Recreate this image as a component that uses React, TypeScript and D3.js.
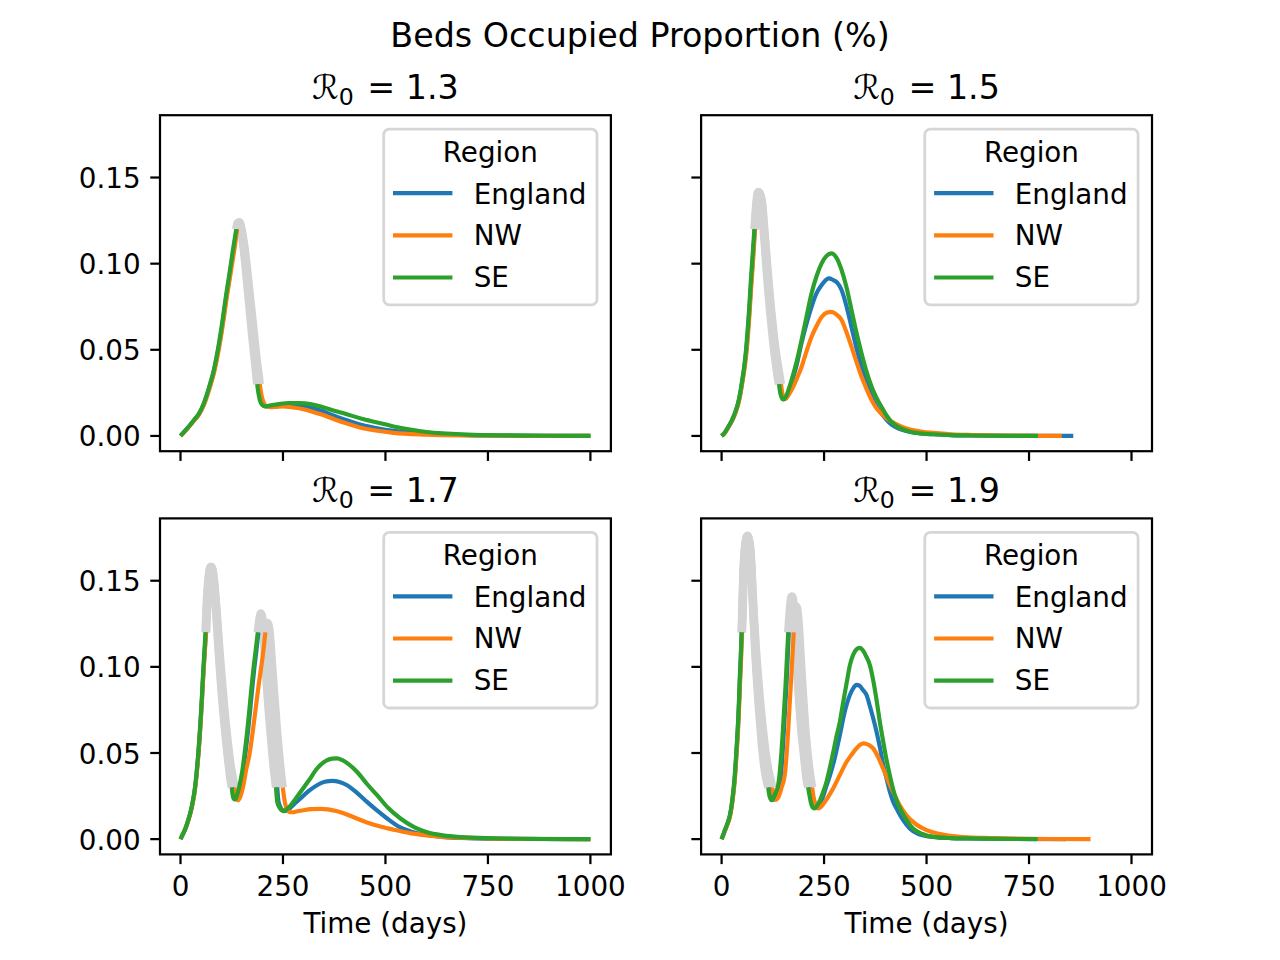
import * as d3 from 'd3';
import React from 'react';

type Pt = [number, number];
type Lock = [number, number];

// ---- chart values ----
const regions = ['England', 'NW', 'SE'];
const r0Labels = ['1.3', '1.5', '1.7', '1.9'];
const xTicks = [0, 250, 500, 750, 1000];
const yTicks = [0, 0.05, 0.1, 0.15];

// R0 = 1.3
const r13England: Pt[] = [
  [0, 0], [16, 0.0042], [32, 0.0088], [45, 0.0127], [57, 0.0185], [65, 0.024], [73, 0.03], [81, 0.037],
  [88, 0.045], [94, 0.0525], [100, 0.061], [106, 0.071], [112, 0.081], [118, 0.09], [123, 0.098], [128, 0.1055],
  [137, 0.12], [140, 0.1235], [143, 0.124], [147, 0.121], [151, 0.116], [155, 0.109], [159.5, 0.1], [163.5, 0.09],
  [168, 0.08], [172, 0.07], [176.5, 0.06], [180.5, 0.051], [184.5, 0.042], [187.5, 0.036], [190.5, 0.03],
  [193.5, 0.025], [197.5, 0.0205], [202.5, 0.018], [208, 0.0172], [216, 0.0173], [230, 0.0177], [250, 0.018],
  [275, 0.0177], [300, 0.0172], [325, 0.016], [350, 0.014], [375, 0.0117], [400, 0.0095], [440, 0.0065],
  [480, 0.0045], [520, 0.003], [560, 0.002], [600, 0.0014], [700, 0.0005], [800, 0.0002], [1000, 0],
];
const r13NW: Pt[] = [
  [0, 0], [16, 0.004], [32, 0.0085], [45, 0.0124], [57, 0.018], [65, 0.0232], [73, 0.0293], [81, 0.036],
  [88, 0.0435], [94, 0.051], [100, 0.0595], [106, 0.069], [112, 0.079], [118, 0.088], [123, 0.0955], [128, 0.103],
  [132, 0.109], [138, 0.12], [141, 0.1235], [144, 0.124], [148, 0.121], [152, 0.116], [156.5, 0.109], [161, 0.1],
  [165.5, 0.09], [170, 0.08], [174.5, 0.07], [179, 0.06], [183, 0.051], [187, 0.042], [190.5, 0.036], [193.5, 0.03],
  [196.5, 0.025], [200.5, 0.021], [205.5, 0.0182], [212, 0.0169], [220, 0.0167], [235, 0.0169], [250, 0.0171],
  [275, 0.0165], [300, 0.0155], [325, 0.0138], [350, 0.012], [375, 0.0097], [400, 0.0076], [440, 0.0048],
  [480, 0.003], [520, 0.0018], [600, 0.0008], [700, 0.0003], [800, 0.0001], [1000, 0],
];
const r13SE: Pt[] = [
  [0, 0], [16, 0.0043], [32, 0.009], [45, 0.013], [57, 0.019], [65, 0.0246], [73, 0.031], [81, 0.038],
  [88, 0.046], [94, 0.054], [100, 0.063], [106, 0.073], [112, 0.083], [118, 0.092], [123, 0.1], [128, 0.108],
  [136, 0.12], [139, 0.1235], [142, 0.124], [146, 0.121], [150, 0.116], [154, 0.109], [158, 0.1], [162, 0.09],
  [166, 0.08], [170, 0.07], [174, 0.06], [178, 0.051], [182, 0.042], [184.5, 0.036], [187, 0.03],
  [190, 0.025], [194, 0.0205], [199, 0.018], [205, 0.0172], [215, 0.0175], [224, 0.0179], [240, 0.0185],
  [264, 0.0191], [290, 0.019], [313, 0.0186], [335, 0.0175], [358, 0.0159], [380, 0.0143], [400, 0.013],
  [440, 0.0101], [480, 0.0078], [520, 0.0055], [560, 0.0037], [600, 0.0023], [650, 0.0014], [700, 0.0008],
  [800, 0.0003], [900, 0.0001], [1000, 0],
];
const r13EnglandLock: Lock[] = [[137, 190.5]];
const r13NWLock: Lock[] = [[138, 193.5]];
const r13SELock: Lock[] = [[136, 187]];

// R0 = 1.5
const r15England: Pt[] = [
  [0, 0], [8, 0.0019], [16, 0.005], [25, 0.0088], [32, 0.0127], [40, 0.0185], [45, 0.024], [50, 0.031],
  [55, 0.039], [60, 0.049], [63.5, 0.059], [67, 0.07], [70, 0.081], [73, 0.092], [76, 0.102], [81, 0.12],
  [84, 0.13], [86.5, 0.137], [90, 0.1415], [94, 0.14], [98.6, 0.135], [102, 0.124], [106.6, 0.111], [110.5, 0.098],
  [115, 0.086], [119, 0.075], [123.5, 0.065], [127.5, 0.056], [131.5, 0.048], [136, 0.04], [139, 0.035], [142, 0.03],
  [145, 0.025], [149, 0.0222], [152, 0.0213], [157, 0.022], [162, 0.024], [166, 0.027], [170.7, 0.031], [183, 0.041],
  [195, 0.054], [207, 0.065], [219.5, 0.075], [232, 0.083], [244, 0.0876], [254, 0.0905], [262, 0.0915],
  [272, 0.0905], [282, 0.089], [292.7, 0.0847], [305, 0.075], [317, 0.063], [329, 0.051], [341.5, 0.04],
  [354, 0.031], [366, 0.0227], [378, 0.017], [390, 0.013], [402, 0.0095], [414.6, 0.0065], [435, 0.004],
  [460, 0.0023], [490, 0.0014], [516, 0.001], [560, 0.0005], [600, 0.0003], [700, 0.0001], [858, 0],
];
const r15NW: Pt[] = [
  [0, 0], [8, 0.0018], [16, 0.0048], [25, 0.0085], [32, 0.0122], [40, 0.018], [45, 0.023], [50, 0.03],
  [55, 0.0375], [60, 0.047], [63.5, 0.056], [67, 0.067], [70, 0.078], [73, 0.089], [76, 0.099], [78.5, 0.108],
  [81.5, 0.12], [84.5, 0.13], [87, 0.137], [90.5, 0.1415], [94.5, 0.14], [99, 0.135], [102.5, 0.125], [107, 0.112],
  [111, 0.1], [115.5, 0.087], [120, 0.075], [124.5, 0.065], [129, 0.055], [133.5, 0.047], [138, 0.04],
  [141.5, 0.035], [145, 0.03], [148, 0.025], [152, 0.0222], [155, 0.0215], [159, 0.0222], [164, 0.024],
  [170.7, 0.0266], [183, 0.033], [195, 0.04], [207, 0.049], [219.5, 0.0576], [232, 0.064], [244, 0.069],
  [256, 0.0715], [268, 0.072], [280, 0.0705], [292.7, 0.0673], [305, 0.06], [317, 0.0517], [329, 0.043],
  [341.5, 0.0343], [354, 0.027], [366, 0.0208], [378, 0.016], [390, 0.013], [402, 0.0104], [414.6, 0.0083],
  [435, 0.0058], [460, 0.0037], [490, 0.0024], [516, 0.0018], [560, 0.001], [600, 0.0006], [700, 0.0002], [830, 0],
];
const r15SE: Pt[] = [
  [0, 0], [8, 0.002], [16, 0.0052], [25, 0.009], [32, 0.013], [40, 0.019], [45, 0.0246], [50, 0.032],
  [55, 0.04], [60, 0.051], [63.5, 0.0614], [67, 0.073], [70, 0.0847], [73, 0.096], [76, 0.106], [80, 0.12],
  [83, 0.13], [85.5, 0.137], [89, 0.1415], [93, 0.14], [97.6, 0.135], [101, 0.124], [105.6, 0.11], [109.5, 0.097],
  [113.7, 0.0847], [118, 0.073], [122, 0.0634], [126, 0.054], [130, 0.046], [134, 0.039], [138, 0.0324], [140, 0.03],
  [143, 0.025], [147, 0.022], [150, 0.0212], [155, 0.022], [160, 0.0245], [165, 0.028], [170.7, 0.0324],
  [183, 0.043], [195, 0.0556], [207, 0.069], [219.5, 0.0828], [232, 0.093], [244, 0.1002], [256, 0.1045],
  [268, 0.106], [280, 0.1035], [292.7, 0.0963], [305, 0.086], [317, 0.073], [329, 0.06], [341.5, 0.0479],
  [354, 0.037], [366, 0.0285], [378, 0.022], [390, 0.0169], [402, 0.012], [414.6, 0.0081], [435, 0.0045],
  [460, 0.0024], [490, 0.0013], [516, 0.001], [560, 0.0005], [600, 0.0003], [650, 0.0001], [700, 0.00005], [772, 0],
];
const r15EnglandLock: Lock[] = [[81, 142]];
const r15NWLock: Lock[] = [[81.5, 145]];
const r15SELock: Lock[] = [[80, 140]];

// R0 = 1.7
const r17England: Pt[] = [
  [0, 0], [6, 0.0029], [12, 0.006], [18, 0.0102], [24.4, 0.0154], [30, 0.0214], [35, 0.0286], [39, 0.037],
  [43, 0.0475], [46.5, 0.0585], [49.6, 0.07], [52.5, 0.082], [55.3, 0.0945], [58, 0.105], [62, 0.12],
  [66, 0.142], [70, 0.153], [74, 0.158], [77, 0.157], [80, 0.153], [83, 0.146], [86.4, 0.136], [90.5, 0.122],
  [94.5, 0.107], [98.5, 0.094], [102.6, 0.0817], [106.7, 0.0705], [110.8, 0.0604], [114.8, 0.051], [118.8, 0.043],
  [122.5, 0.036], [127, 0.03], [129, 0.026], [131.5, 0.0236], [135, 0.0232], [139, 0.025], [144, 0.029],
  [148, 0.0335], [152.4, 0.039], [158, 0.049], [164.6, 0.0623], [170, 0.075], [175, 0.0876], [180, 0.099],
  [185, 0.1089], [190, 0.12], [193.5, 0.127], [197.5, 0.13], [200.5, 0.127], [204.5, 0.1166], [208.5, 0.102],
  [212.5, 0.0876], [216.5, 0.075], [221, 0.0623], [225.5, 0.051], [230, 0.041], [236, 0.03], [239, 0.022],
  [243, 0.019], [248, 0.017], [255, 0.0163], [265, 0.0175], [280, 0.021], [292.7, 0.0236], [313, 0.028],
  [333, 0.0313], [352, 0.0333], [370, 0.0338], [388, 0.0332], [406.5, 0.0313], [430, 0.027], [455, 0.0216],
  [480, 0.0165], [504, 0.012], [536, 0.0068], [561, 0.0045], [600, 0.0024], [642, 0.0012], [700, 0.0006],
  [800, 0.0002], [1000, 0],
];
const r17NW: Pt[] = [
  [0, 0], [6, 0.0029], [12, 0.006], [18, 0.0101], [24.4, 0.0152], [30, 0.0212], [35, 0.0283], [39, 0.0366],
  [43, 0.047], [46.5, 0.0578], [49.6, 0.0694], [52.5, 0.081], [55.3, 0.0935], [58, 0.104], [62.5, 0.12],
  [66.5, 0.142], [70.5, 0.153], [74.5, 0.158], [77.5, 0.157], [80.5, 0.153], [83.5, 0.146], [87, 0.136],
  [91, 0.123], [95, 0.11], [99, 0.098], [103, 0.087], [107, 0.076], [111, 0.066], [115, 0.057], [119, 0.049],
  [123, 0.042], [127.5, 0.036], [132, 0.03], [134.5, 0.026], [137.5, 0.0232], [140.5, 0.0225], [144, 0.0235],
  [149, 0.027], [154, 0.032], [160, 0.04], [168, 0.0488], [176, 0.062], [184.5, 0.0778], [191, 0.09],
  [197.6, 0.101], [202, 0.109], [207, 0.12], [210, 0.1235], [213, 0.1255], [216, 0.123], [219.5, 0.1147],
  [223.5, 0.101], [227.6, 0.0876], [231.7, 0.075], [235.8, 0.0623], [240, 0.051], [244, 0.041], [249.6, 0.03],
  [252.5, 0.0245], [256, 0.02], [260, 0.0172], [266, 0.0158], [272, 0.0156], [285, 0.0162], [300, 0.0168],
  [320, 0.0174], [341.5, 0.0176], [360, 0.0173], [380, 0.0163], [398, 0.015], [420, 0.013], [455, 0.0097],
  [490, 0.0072], [520, 0.0055], [560, 0.0035], [601.6, 0.0022], [650, 0.0012], [700, 0.0007], [800, 0.0002],
  [1000, 0],
];
const r17SE: Pt[] = [
  [0, 0], [6, 0.003], [12, 0.0062], [18, 0.0105], [24.4, 0.0158], [30, 0.022], [35, 0.0294], [39, 0.038],
  [43, 0.0488], [46.5, 0.06], [49.6, 0.072], [52.5, 0.084], [55.3, 0.0972], [58, 0.108], [61, 0.12],
  [65, 0.142], [69, 0.153], [73, 0.158], [76, 0.157], [79, 0.153], [82, 0.146], [85.4, 0.136], [89.5, 0.122],
  [93.5, 0.107], [97.5, 0.094], [101.6, 0.0817], [105.7, 0.0705], [109.8, 0.0604], [113.8, 0.051],
  [117.5, 0.043], [121, 0.036], [125, 0.03], [127, 0.026], [129.5, 0.0236], [133, 0.023], [137, 0.025],
  [142, 0.029], [146, 0.0335], [150.4, 0.039], [156, 0.049], [162.6, 0.0623], [168, 0.075], [173, 0.0876],
  [178, 0.099], [183, 0.1089], [188.5, 0.12], [192, 0.127], [196, 0.131], [199, 0.128], [203, 0.1166],
  [207, 0.102], [211, 0.0876], [215, 0.075], [219.5, 0.0623], [223.5, 0.051], [227.6, 0.041], [233, 0.03],
  [236, 0.0216], [240, 0.019], [245, 0.0172], [252, 0.0163], [260, 0.0175], [275, 0.0215], [292.7, 0.0274],
  [313, 0.034], [333, 0.041], [355, 0.0455], [370, 0.0467], [382, 0.0469], [395, 0.0458], [410, 0.0435],
  [431, 0.039], [455, 0.032], [479.7, 0.0255], [505, 0.0185], [536.6, 0.012], [570, 0.007], [601.6, 0.004],
  [640, 0.0022], [683, 0.0012], [764, 0.0005], [850, 0.0002], [1000, 0],
];
const r17EnglandLock: Lock[] = [[62, 127], [190, 236]];
const r17NWLock: Lock[] = [[62.5, 132], [207, 249.6]];
const r17SELock: Lock[] = [[61, 125], [188.5, 233]];

// R0 = 1.9
const r19England: Pt[] = [
  [0, 0], [4, 0.0024], [8, 0.005], [14, 0.0087], [20.2, 0.0134], [24.5, 0.0193], [28.3, 0.0264], [31.8, 0.0347],
  [34.9, 0.0452], [37.8, 0.056], [40.5, 0.0675], [42.6, 0.079], [44.6, 0.092], [46.8, 0.1035], [49.3, 0.12],
  [53.3, 0.153], [57.3, 0.169], [60.5, 0.1745], [63, 0.176], [66, 0.174], [69.5, 0.169], [72.5, 0.158],
  [75.2, 0.1437], [79.3, 0.124], [83.4, 0.106], [87.5, 0.091], [91.5, 0.078], [95.5, 0.0665], [99.5, 0.056],
  [104, 0.047], [108.5, 0.04], [112.5, 0.035], [117, 0.03], [119.5, 0.026], [122.5, 0.0235], [125.5, 0.0227],
  [129.5, 0.0236], [133.5, 0.026], [137.5, 0.028], [141.5, 0.0313], [145.5, 0.039], [149, 0.0507], [152, 0.063],
  [155, 0.076], [158, 0.088], [160.5, 0.101], [164, 0.12], [167.5, 0.132], [172, 0.1408], [175.5, 0.137],
  [178.5, 0.128], [182.5, 0.112], [186.5, 0.0953], [190.5, 0.08], [195, 0.066], [199, 0.056], [203, 0.0469],
  [209, 0.036], [215, 0.03], [218, 0.025], [222, 0.021], [226, 0.0188], [231, 0.018], [238, 0.0195],
  [248, 0.025], [256, 0.031], [265, 0.0375], [275, 0.046], [288.5, 0.0604], [300, 0.0735], [313, 0.0837],
  [321, 0.0875], [329, 0.0895], [337, 0.089], [345, 0.0865], [353.6, 0.0837], [362, 0.077], [370, 0.07],
  [378, 0.0623], [386, 0.0535], [394, 0.0435], [402.4, 0.0352], [410, 0.028], [418, 0.022], [426.8, 0.0178],
  [443, 0.011], [459, 0.0062], [480, 0.003], [516, 0.0013], [560, 0.0006], [600, 0.0004], [700, 0.0001], [840, 0],
];
const r19NW: Pt[] = [
  [0, 0], [4, 0.0023], [8, 0.0048], [14, 0.0083], [20.2, 0.0128], [24.5, 0.0185], [28.3, 0.0253], [31.8, 0.0333],
  [34.9, 0.0434], [37.8, 0.0537], [40.5, 0.0648], [42.6, 0.076], [44.6, 0.0885], [46.8, 0.0995], [49.8, 0.12],
  [53.8, 0.153], [57.8, 0.169], [61, 0.1745], [63.5, 0.176], [66.5, 0.174], [70, 0.169], [73, 0.158],
  [75.7, 0.1437], [80, 0.125], [84.5, 0.108], [89, 0.094], [93.5, 0.081], [98, 0.07], [102.5, 0.06], [107, 0.051],
  [111.5, 0.044], [116, 0.038], [120, 0.034], [123.5, 0.03], [126, 0.0265], [129, 0.024], [132.5, 0.0228],
  [136.5, 0.0235], [142, 0.0265], [147, 0.0305], [151, 0.0335], [155, 0.039], [159, 0.0505], [162.5, 0.063],
  [165.5, 0.076], [168.5, 0.088], [171.5, 0.101], [176, 0.12], [179.5, 0.128], [183, 0.135], [186, 0.131],
  [188.5, 0.124], [192.5, 0.108], [196.6, 0.0914], [200.8, 0.076], [204.9, 0.0623], [209, 0.052], [213, 0.043],
  [217, 0.036], [221, 0.03], [224, 0.025], [228, 0.021], [232, 0.0188], [235.6, 0.0178], [241, 0.0185],
  [250, 0.021], [260, 0.0245], [272, 0.0294], [288, 0.037], [305, 0.0449], [317, 0.049], [329, 0.0527],
  [338, 0.0548], [347, 0.0556], [358, 0.0548], [369.8, 0.0527], [382, 0.0475], [394, 0.041], [406, 0.034],
  [418.5, 0.0274], [435, 0.0195], [451, 0.0139], [475, 0.0085], [500, 0.0052], [530, 0.0031], [557, 0.0019],
  [600, 0.0011], [638, 0.0007], [700, 0.0004], [800, 0.0001], [900, 0],
];
const r19SE: Pt[] = [
  [0, 0], [4, 0.0025], [8, 0.0052], [14, 0.009], [20.2, 0.0139], [24.5, 0.02], [28.3, 0.0274], [31.8, 0.036],
  [34.9, 0.0469], [37.8, 0.058], [40.5, 0.07], [42.6, 0.082], [44.6, 0.0953], [46.8, 0.107], [48.8, 0.12],
  [52.8, 0.153], [56.8, 0.169], [60, 0.1745], [62.5, 0.176], [65.5, 0.174], [69, 0.169], [72, 0.158],
  [74.7, 0.1437], [78.8, 0.124], [82.9, 0.105], [87, 0.0895], [91, 0.076], [95, 0.064], [99, 0.0527],
  [103, 0.044], [107.3, 0.037], [113.7, 0.03], [116, 0.026], [119, 0.0235], [122, 0.0226], [126, 0.0235],
  [130, 0.026], [134, 0.028], [138, 0.0313], [142, 0.039], [146, 0.0507], [149.5, 0.063], [152.7, 0.076],
  [155.7, 0.088], [158.5, 0.101], [162.5, 0.12], [166, 0.132], [170.7, 0.1408], [174, 0.137], [177, 0.128],
  [181, 0.112], [185, 0.0953], [189, 0.08], [193.4, 0.066], [197.5, 0.056], [201.5, 0.0469], [207, 0.035],
  [211, 0.03], [214, 0.026], [218, 0.021], [222, 0.0185], [226, 0.0178], [232, 0.019], [240, 0.0225],
  [248, 0.0275], [256, 0.0333], [264, 0.0413], [272, 0.05], [280, 0.0593], [288.5, 0.0681], [297, 0.08],
  [305, 0.0905], [313, 0.101], [321, 0.107], [329, 0.1102], [337, 0.111], [345, 0.1095], [353, 0.106],
  [361.7, 0.101], [370, 0.092], [378, 0.0808], [386, 0.0681], [394, 0.057], [402, 0.0465], [410.5, 0.037],
  [418.5, 0.029], [426.8, 0.0225], [435, 0.0178], [451, 0.0112], [467, 0.0062], [490, 0.003], [516, 0.0013],
  [560, 0.0006], [600, 0.0004], [700, 0.0001], [771, 0],
];
const r19EnglandLock: Lock[] = [[49.3, 117], [164, 215]];
const r19NWLock: Lock[] = [[49.8, 123.5], [176, 221]];
const r19SELock: Lock[] = [[48.8, 113.7], [162.5, 211]];

// ---- styling ----
const colours: Record<string, string> = { England: '#1f77b4', NW: '#ff7f0e', SE: '#2ca02c' };
const lockGrey = '#d3d3d3';
const font = '"DejaVu Sans", sans-serif';
const PT = 200 / 72;

const panelData = [
  { data: [r13England, r13NW, r13SE], locks: [r13EnglandLock, r13NWLock, r13SELock] },
  { data: [r15England, r15NW, r15SE], locks: [r15EnglandLock, r15NWLock, r15SELock] },
  { data: [r17England, r17NW, r17SE], locks: [r17EnglandLock, r17NWLock, r17SELock] },
  { data: [r19England, r19NW, r19SE], locks: [r19EnglandLock, r19NWLock, r19SELock] },
];

const axW = 450.9;
const axH = 336;
const colLeft = [160, 701.1];
const rowTop = [115.2, 518.4];

const inside = (t: number, locks: Lock[]) => locks.some(([a, b]) => t > a && t < b);
const onEdge = (t: number, locks: Lock[]) => locks.some(([a, b]) => t === a || t === b);

function Legend({ right, top }: { right: number; top: number }) {
  const w = 213.3;
  const h = 175.7;
  const L = right - 13.9 - w;
  const T = top + 13.9;
  const fs = 10 * PT;
  return (
    <g>
      <rect x={L} y={T} width={w} height={h} rx={5.6} ry={5.6}
        fill="white" fillOpacity={0.8} stroke="#cccccc" strokeOpacity={0.8} strokeWidth={PT} />
      <text x={L + w / 2} y={T + 32.7} textAnchor="middle" fontSize={fs} fontFamily={font}>Region</text>
      {regions.map((r, i) => (
        <g key={r}>
          <line x1={L + 9.3} x2={L + 68.7} y1={T + 64 + i * 42.2} y2={T + 64 + i * 42.2}
            stroke={colours[r]} strokeWidth={1.5 * PT} />
          <text x={L + 90} y={T + 74.7 + i * 41.4} fontSize={fs} fontFamily={font}>{r}</text>
        </g>
      ))}
    </g>
  );
}

function Panel({ index }: { index: number }) {
  const col = index % 2;
  const row = Math.floor(index / 2);
  const left = colLeft[col];
  const top = rowTop[row];
  const x = d3.scaleLinear().domain([-50, 1050]).range([left, left + axW]);
  const y = d3.scaleLinear().domain([-0.00886, 0.18618]).range([top + axH, top]);
  const { data, locks } = panelData[index];
  const fs = 10 * PT;
  const tickLen = 3.5 * PT;
  const tickW = 0.8 * PT;

  const colourPath = (pts: Pt[], lk: Lock[]) =>
    d3.line<Pt>().defined(d => !inside(d[0], lk)).x(d => x(d[0])).y(d => y(d[1])).curve(d3.curveMonotoneX)(pts) || '';
  const greyPath = (pts: Pt[], lk: Lock[]) =>
    d3.line<Pt>().defined(d => inside(d[0], lk) || onEdge(d[0], lk)).x(d => x(d[0])).y(d => y(d[1]))
      .curve(d3.curveMonotoneX)(pts) || '';

  const cx = left + axW / 2;
  return (
    <g>
      {data.map((pts, i) => (
        <path key={'g' + i} d={greyPath(pts, locks[i])} fill="none" stroke={lockGrey}
          strokeWidth={3 * PT} strokeLinejoin="round" strokeLinecap="butt" />
      ))}
      {data.map((pts, i) => (
        <path key={'c' + i} d={colourPath(pts, locks[i])} fill="none" stroke={colours[regions[i]]}
          strokeWidth={1.5 * PT} strokeLinejoin="round" strokeLinecap="butt" />
      ))}
      <rect x={left} y={top} width={axW} height={axH} fill="none" stroke="black" strokeWidth={tickW} />
      {xTicks.map(t => (
        <g key={'x' + t}>
          <line x1={x(t)} x2={x(t)} y1={top + axH} y2={top + axH + tickLen} stroke="black" strokeWidth={tickW} />
          {row === 1 && (
            <text x={x(t)} y={top + axH + 41.5} textAnchor="middle" fontSize={fs} fontFamily={font}>{t}</text>
          )}
        </g>
      ))}
      {yTicks.map(v => (
        <g key={'y' + v}>
          <line x1={left - tickLen} x2={left} y1={y(v)} y2={y(v)} stroke="black" strokeWidth={tickW} />
          {col === 0 && (
            <text x={left - 2 * tickLen} y={y(v) + 10.5} textAnchor="end" fontSize={fs} fontFamily={font}>
              {v.toFixed(2)}
            </text>
          )}
        </g>
      ))}
      {row === 1 && (
        <text x={cx} y={top + axH + 78.8} textAnchor="middle" fontSize={fs} fontFamily={font}>Time (days)</text>
      )}
      <text x={cx} y={top - 16.2} textAnchor="middle" fontSize={12 * PT} fontFamily={font}
        style={{ whiteSpace: 'pre' }}>
        <tspan>ℛ</tspan>
        <tspan fontSize={8.5 * PT} dy={5.5}>0</tspan>
        <tspan dy={-5.5} dx={3}>{' = ' + r0Labels[index]}</tspan>
      </text>
      <Legend right={left + axW} top={top} />
    </g>
  );
}

export default function App() {
  return (
    <svg width={1280} height={960} viewBox="0 0 1280 960"
      style={{ position: 'absolute', left: 0, top: 0, background: 'white' }}>
      <rect x={0} y={0} width={1280} height={960} fill="white" />
      <text x={640} y={46.5} textAnchor="middle" fontSize={12 * PT} fontFamily={font}>
        Beds Occupied Proportion (%)
      </text>
      {[0, 1, 2, 3].map(i => <Panel key={i} index={i} />)}
    </svg>
  );
}
